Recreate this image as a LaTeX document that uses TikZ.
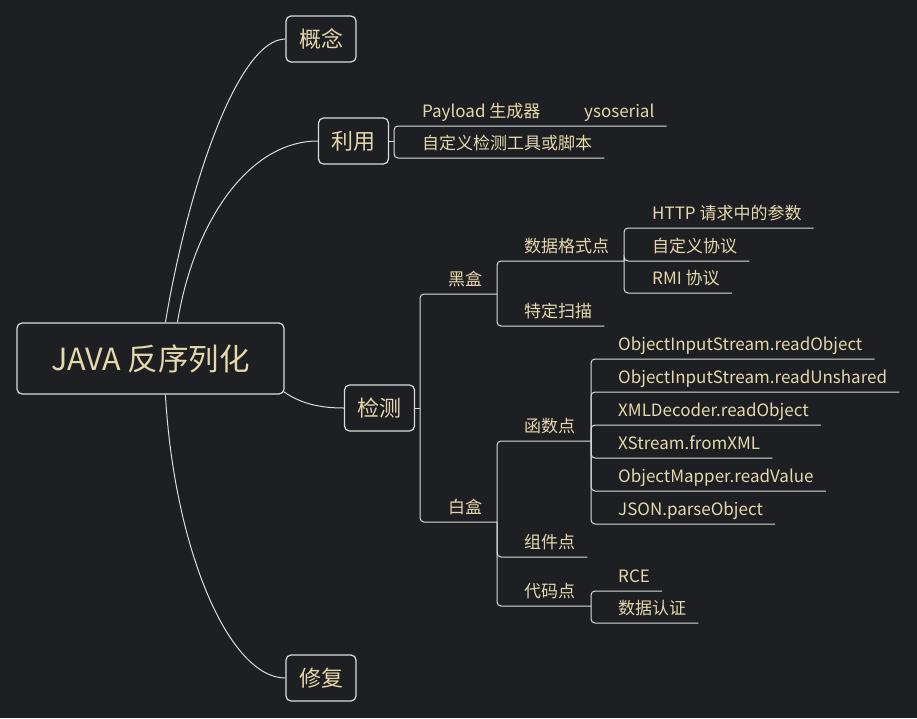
\documentclass[tikz,border=0pt]{standalone}
\usepackage{fontspec}
\setmainfont{Noto Sans CJK SC}
\usetikzlibrary{calc,positioning}

\definecolor{bgcol}{HTML}{1E1F22}
\definecolor{txtcol}{HTML}{E4D8AC}
\definecolor{linecol}{HTML}{DCDCDC}

\tikzset{
  topic/.style={draw=linecol, line width=1.2pt, rounded corners=5pt, text=txtcol,
    font=\fontsize{22}{26}\selectfont, minimum width=70pt, minimum height=46pt, inner sep=0pt},
  leaf/.style={anchor=base west, inner sep=0pt, text=txtcol, font=\fontsize{17}{20}\selectfont},
  link/.style={draw=linecol, line width=1pt, rounded corners=4pt},
  curve/.style={draw=linecol, line width=1pt},
}

\begin{document}
\begin{tikzpicture}[x=1pt,y=-1pt]
    \fill[bgcol] (0,0) rectangle (917,718);

    \node[topic, minimum width=267pt, minimum height=71pt, font=\fontsize{30.5}{34}\selectfont] (root) at (150.5,358.5) {JAVA 反序列化};
    \node[topic] (idea) at (321,39) {概念};
    \node[topic] (use) at (353.5,141) {利用};
    \node[topic] (detect) at (379.5,408) {检测};
    \node[topic] (fix) at (321,678) {修复};

    % main branches
    \draw[curve] ([xshift=149pt]root.north west) .. controls +(24,-143) and +(-46,0) .. (idea.west);
    \draw[curve] ([xshift=161pt]root.north west) .. controls +(17,-103) and +(-68,0) .. (use.west);
    \draw[curve] ([xshift=-1pt,yshift=3pt]root.south east) .. controls +(17,12) and +(-24,0) .. (detect.west);
    \draw[curve] ([xshift=149pt]root.south west) .. controls +(9,156) and +(-56,0) .. (fix.west);

    % 利用
    \coordinate (use-j) at (394,141);
    \coordinate (pay-j) at (557,126);
    \draw[link] (use.east) -- (use-j);
    \node[leaf] (pay) at (422,117) {Payload 生成器};
    \node[leaf] (yso) at (584,117) {ysoserial};
    \node[leaf] (tool) at (422,149) {自定义检测工具或脚本};
    \draw[link] (use-j) |- (pay-j) -- ($(yso.base east)+(12,9)$);
    \draw[link] (use-j) |- ($(tool.base east)+(12,9)$);

    % 检测
    \coordinate (det-j) at (420,408);
    \coordinate (black-j) at (497,294);
    \coordinate (white-j) at (497,522);
    \draw[link] (detect.east) -- (det-j);
    \node[leaf] (black) at (448,285) {黑盒};
    \node[leaf] (white) at (448,513) {白盒};
    \draw[link] (det-j) |- (black-j);
    \draw[link] (det-j) |- (white-j);

    % 黑盒
    \coordinate (fmt-j) at (624,261);
    \node[leaf] (fmt) at (524,252) {数据格式点};
    \node[leaf] (scan) at (524,317) {特定扫描};
    \draw[link] (black-j) |- (fmt-j);
    \draw[link] (black-j) |- ($(scan.base east)+(12,9)$);
    \foreach \n/\y/\t in {http/228/HTTP 请求中的参数, proto/261/自定义协议, rmi/293/RMI 协议}{
        \node[leaf] (\n) at (652,\y-9) {\t};
        \draw[link] (fmt-j) |- ($(\n.base east)+(12,9)$);
    }

    % 白盒
    \coordinate (func-j) at (591,441);
    \coordinate (code-j) at (591,606);
    \node[leaf] (func) at (524,432) {函数点};
    \node[leaf] (lib) at (524,548) {组件点};
    \node[leaf] (code) at (524,597) {代码点};
    \draw[link] (white-j) |- (func-j);
    \draw[link] (white-j) |- ($(lib.base east)+(12,9)$);
    \draw[link] (white-j) |- (code-j);
    \foreach \n/\y/\t in {f1/359/ObjectInputStream.readObject, f2/392/ObjectInputStream.readUnshared,
        f3/425/XMLDecoder.readObject, f4/458/XStream.fromXML, f5/491/ObjectMapper.readValue, f6/524/JSON.parseObject}{
        \node[leaf] (\n) at (618,\y-9) {\t};
        \draw[link] (func-j) |- ($(\n.base east)+(12,9)$);
    }
    \foreach \n/\y/\t in {rce/591/RCE, auth/623/数据认证}{
        \node[leaf] (\n) at (618,\y-9) {\t};
        \draw[link] (code-j) |- ($(\n.base east)+(12,9)$);
    }
\end{tikzpicture}
\end{document}
